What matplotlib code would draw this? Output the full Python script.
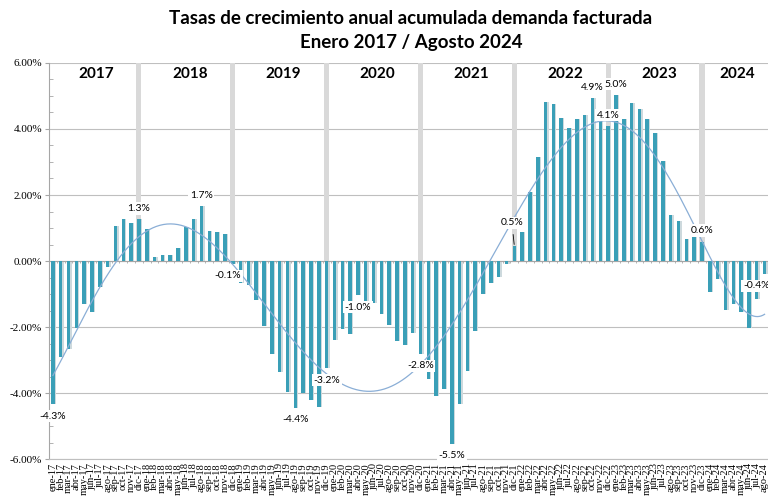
import numpy as np
import matplotlib
matplotlib.use("Agg")
import matplotlib.pyplot as plt
from matplotlib.ticker import MultipleLocator, FuncFormatter

meses = ["ene", "feb", "mar", "abr", "may", "jun", "jul", "ago", "sep", "oct", "nov", "dic"]
anios = [2017, 2018, 2019, 2020, 2021, 2022, 2023, 2024]

# tasas de crecimiento (%)
v2017 = [-4.34, -2.92, -2.68, -2.04, -1.30, -1.56, -0.78, -0.19, 1.07, 1.26, 1.14, 1.26]
v2018 = [0.97, 0.13, 0.17, 0.18, 0.38, 1.02, 1.26, 1.66, 0.91, 0.88, 0.81, -0.08]
v2019 = [-0.68, -0.72, -1.19, -1.96, -2.83, -3.36, -3.96, -4.44, -4.00, -4.20, -4.42, -3.24]
v2020 = [-2.40, -2.07, -2.22, -1.04, -1.34, -1.27, -1.60, -1.95, -2.42, -2.54, -2.18, -2.81]
v2021 = [-3.59, -4.09, -3.89, -5.54, -4.32, -3.33, -2.13, -1.01, -0.68, -0.48, -0.10, 0.46]
v2022 = [0.88, 2.09, 3.16, 4.82, 4.77, 4.32, 4.04, 4.31, 4.43, 4.94, 4.31, 4.09]
v2023 = [5.03, 4.29, 4.80, 4.60, 4.29, 3.87, 3.03, 1.38, 1.20, 0.66, 0.77, 0.59]
v2024 = [-0.95, -0.56, -1.47, -1.29, -1.54, -2.02, -1.14, -0.38]

valores = v2017 + v2018 + v2019 + v2020 + v2021 + v2022 + v2023 + v2024
etiquetas = [f"{m}-{str(a)[2:]}" for a in anios for m in meses][:len(valores)]

# meses con etiqueta de dato
con_etiqueta = [0, 11, 19, 23, 31, 35, 39, 47, 51, 59, 69, 71, 72, 83, 91]

x = np.arange(len(valores))
v = np.array(valores)

fig = plt.figure(figsize=(7.68, 4.98), dpi=100)
ax = fig.add_axes([0.0638, 0.0783, 1 - 0.0638, 0.7952])

ax.set_xlim(-0.5, 91.44)
ax.set_ylim(-6, 6)

# franjas grises en diciembre
dic = [i for i, e in enumerate(etiquetas) if e.startswith("dic")]
ax.bar(dic, 6, width=0.65, color="#d9d9d9", zorder=1)

# barras con sombra
ax.bar(x + 0.17, v, width=0.45, color="#cdd9dd", zorder=2)
ax.bar(x, v, width=0.45, color="#3a9fb7", zorder=3)

# linea de tendencia polinomica
poli = np.polynomial.Polynomial.fit(x, v, 6)
xs = np.linspace(0, len(v) - 1, 400)
ax.plot(xs, poli(xs), color="#8aaed6", lw=0.9, zorder=4)

# linea del cero con marcas
ax.axhline(0, color="#a6a6a6", lw=0.8, zorder=2.5)
ax.vlines(np.arange(-0.5, len(v)), -0.07, 0, color="#a6a6a6", lw=0.6, zorder=2.5)

# etiquetas de datos
for i in con_etiqueta:
    val = v[i]
    dx, dy = 0, (7.9 if val > 0 else -8.7)
    props = None
    if i == 23:
        dx = -3.5
    if i == 59:
        dx, dy = -1.7, 16.5
        props = dict(arrowstyle="-", color="black", lw=0.6, shrinkA=4, shrinkB=1)
    if i == len(v) - 1:
        dx = -6
    ax.annotate(f"{val:.1f}%", (i, val), xytext=(dx, dy), textcoords="offset points",
                ha="center", va="center", fontsize=7.5, family="Lato", zorder=6,
                bbox=dict(boxstyle="square,pad=0.15", fc="white", ec="none"),
                arrowprops=props)

# años
for k, a in enumerate(anios):
    idx = [i for i, e in enumerate(etiquetas) if e.endswith(str(a)[2:])]
    ax.text(np.mean(idx), 5.67, str(a), ha="center", va="center", fontsize=11,
            fontweight="bold", family="Lato", zorder=6)

# ejes
ax.yaxis.set_major_locator(MultipleLocator(2))
ax.yaxis.set_minor_locator(MultipleLocator(0.5))
ax.yaxis.set_major_formatter(FuncFormatter(lambda y, p: f"{y:.2f}%"))
ax.grid(axis="y", which="major", color="#bfbfbf", lw=0.8, zorder=0)
ax.set_axisbelow(True)
ax.tick_params(axis="y", which="major", length=3, color="#a6a6a6", labelsize=8, pad=2)
ax.tick_params(axis="y", which="minor", length=3, direction="in", color="#a6a6a6")
for t in ax.get_yticklabels():
    t.set_family("Liberation Serif")

ax.set_xticks(x)
ax.set_xticklabels(etiquetas, rotation=90, fontsize=7.5, family="Liberation Serif")
ax.tick_params(axis="x", length=0, pad=3)

ax.spines["top"].set_visible(False)
ax.spines["right"].set_visible(False)
ax.spines["left"].set_color("#a6a6a6")
ax.spines["bottom"].set_color("#bfbfbf")

fig.text(0.535, 0.963, "Tasas de crecimiento anual acumulada demanda facturada",
         ha="center", va="center", fontsize=13.5, fontweight="bold", family="Lato")
fig.text(0.535, 0.915, "Enero 2017 / Agosto 2024",
         ha="center", va="center", fontsize=13.5, fontweight="bold", family="Lato")

fig.savefig("out.png", dpi=100)
